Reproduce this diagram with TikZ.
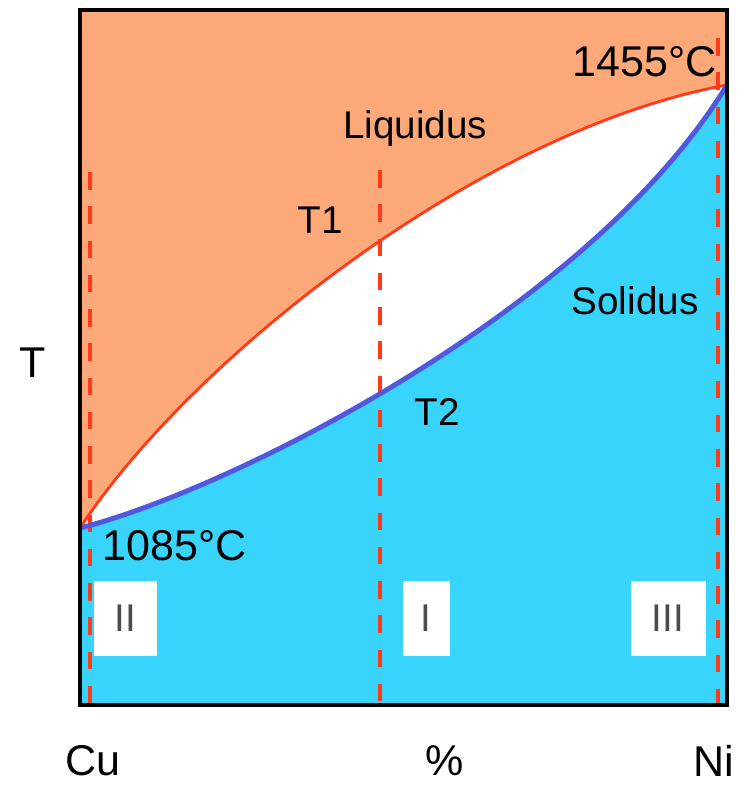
\documentclass[tikz,border=0pt]{standalone}
\usepackage{fontspec}
\setmainfont{Liberation Sans}
\usetikzlibrary{positioning}

\definecolor{liquidorange}{HTML}{FCA878}
\definecolor{solidblue}{HTML}{38D4FC}
\definecolor{liqline}{HTML}{FF3A1A}
\definecolor{solline}{HTML}{5058E0}

\begin{document}
\begin{tikzpicture}[
    x=0.02cm, y=-0.02cm,
    txt/.style     = {inner sep=0pt, font=\fontsize{22pt}{24pt}\selectfont},
    bigtxt/.style  = {inner sep=0pt, font=\fontsize{24.5pt}{26pt}\selectfont},
    phase/.style   = {fill=white, inner sep=0pt, minimum height=75*0.02cm,
                      text=black!70, font=\fontsize{22pt}{24pt}\selectfont},
    guide/.style   = {draw=liqline, line width=1.9pt, dash pattern=on 10pt off 9.5pt},
    liquidus/.style = {draw=liqline, line width=1.6pt},
    solidus/.style  = {draw=solline, line width=2.8pt}
]
\useasboundingbox (0,0) rectangle (743,786);

% corner points of the two curves
\coordinate (cu) at (80,528);
\coordinate (ni) at (727,85);

% phase areas
\fill[solidblue] (80,10) rectangle (727,705);
\fill[liquidorange] (80,10) -- (cu) .. controls (190,360) and (480,130) .. (ni) -- (727,10) -- cycle;
\fill[white] (cu) .. controls (190,360) and (480,130) .. (ni)
             .. controls (590,310) and (230,490) .. (cu) -- cycle;

% composition guides
\coordinate (g1top) at (90,172);
\coordinate (g1bot) at (90,705);
\coordinate (g2top) at (380,170);
\coordinate (g2bot) at (380,705);
\coordinate (g3top) at (718,38);
\coordinate (g3bot) at (718,705);
\draw[guide] (g1top) -- (g1bot);
\draw[guide] (g2top) -- (g2bot);
\draw[guide] (g3top) -- (g3bot);

% liquidus and solidus
\draw[liquidus] (cu) .. controls (190,360) and (480,130) .. (ni);
\draw[solidus] (cu) .. controls (230,490) and (590,310) .. (ni);

% frame
\draw[line width=2.4pt] (80,10) rectangle (727,705);

% labels
\node[bigtxt] (tni)  at (645,62)  {1455°C};
\node[bigtxt] (tcu)  at (175,546) {1085°C};
\node[txt] (liq)  at (415,129) {Liquidus};
\node[txt] (sol)  at (635,301) {Solidus};
\node[txt] (t1)   at (320,220) {T1};
\node[txt] (t2)   at (437,412) {T2};
\node[bigtxt] (tax)  at (33,363)  {T};
\node[bigtxt] (xcu)  at (93,761)  {Cu};
\node[bigtxt] (xpc)  at (445,761) {\%};
\node[bigtxt] (xni)  at (714,761) {Ni};

% phase regions
\node[phase, minimum width=63*0.02cm] (r2) at (125,618) {II};
\node[phase, minimum width=47*0.02cm] (r1) at (426,618) {I};
\node[phase, minimum width=75*0.02cm] (r3) at (668,618) {III};

\end{tikzpicture}
\end{document}
